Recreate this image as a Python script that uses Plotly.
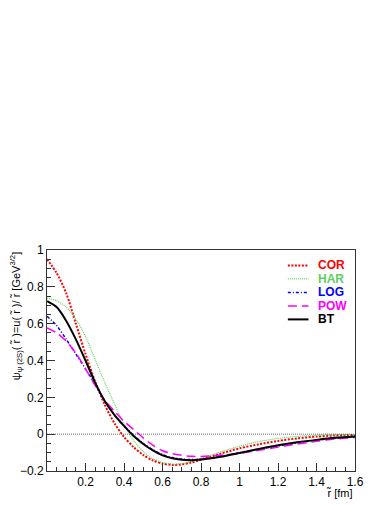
import plotly.graph_objects as go

# radius r~ in fm
r = [0.0, 0.05, 0.1, 0.15, 0.2, 0.25, 0.3, 0.35, 0.4, 0.45, 0.5, 0.55, 0.6,
     0.65, 0.7, 0.75, 0.8, 0.9, 1.0, 1.1, 1.2, 1.3, 1.4, 1.5, 1.6]

# wave functions psi(r~) [GeV^3/2]
cor = [0.95, 0.875, 0.765, 0.6, 0.435, 0.285, 0.16, 0.06, -0.015, -0.07, -0.113,
       -0.143, -0.16, -0.167, -0.164, -0.154, -0.139, -0.106, -0.077, -0.055,
       -0.037, -0.023, -0.013, -0.007, -0.004]
har = [0.738, 0.725, 0.69, 0.625, 0.53, 0.405, 0.28, 0.165, 0.055, -0.035,
       -0.095, -0.133, -0.153, -0.162, -0.16, -0.149, -0.132, -0.097, -0.065,
       -0.04, -0.023, -0.012, -0.006, -0.003, -0.002]
log = [0.64, 0.59, 0.515, 0.435, 0.355, 0.27, 0.18, 0.105, 0.045, -0.005,
       -0.05, -0.085, -0.111, -0.127, -0.135, -0.138, -0.136, -0.121, -0.101,
       -0.082, -0.064, -0.047, -0.033, -0.022, -0.015]
pow_ = [0.577, 0.55, 0.505, 0.44, 0.355, 0.265, 0.185, 0.125, 0.07, 0.025,
        -0.02, -0.06, -0.09, -0.106, -0.115, -0.12, -0.121, -0.114, -0.104,
        -0.088, -0.07, -0.054, -0.038, -0.026, -0.018]
bt = [0.722, 0.69, 0.615, 0.515, 0.40, 0.28, 0.18, 0.105, 0.045, -0.01,
      -0.053, -0.088, -0.115, -0.131, -0.139, -0.141, -0.138, -0.123, -0.102,
      -0.08, -0.06, -0.044, -0.031, -0.02, -0.013]

names = ['COR', 'HAR', 'LOG', 'POW', 'BT']
series = [cor, har, log, pow_, bt]

colors = ['#ff0000', '#5fcf5f', '#0000ff', '#ff00ff', '#000000']
dashes = ['2px,1.5px', '1px,1px', '3px,2px,1px,2px', '9px,5px', 'solid']
widths = [2, 1.2, 1.5, 1.5, 2]

font = 'Liberation Sans, Arial, Helvetica, sans-serif'

fig = go.Figure()

for name, ys, c, d, w in zip(names, series, colors, dashes, widths):
    fig.add_trace(go.Scatter(
        x=r, y=ys, mode='lines', name=name,
        line=dict(color=c, dash=d, width=w, shape='spline', smoothing=0.8),
        showlegend=False,
    ))

# dotted zero line
fig.add_hline(y=0, line=dict(color='#444', width=0.8, dash='1px,1px'))

# hand-made legend, ROOT style (coloured bold labels, tight rows)
for i, (name, c, d, w) in enumerate(zip(names, colors, dashes, widths)):
    ly = 0.93 - i * 0.061
    fig.add_shape(type='line', xref='paper', yref='paper',
                  x0=0.782, x1=0.849, y0=ly, y1=ly,
                  line=dict(color=c, dash=d, width=w))
    fig.add_annotation(xref='paper', yref='paper', x=0.872, y=ly,
                       xanchor='left', yanchor='middle', showarrow=False,
                       text='<b>' + name + '</b>',
                       font=dict(family=font, size=12, color=c))

# axis titles
fig.add_annotation(xref='paper', yref='paper', x=-0.1, y=1.0,
                   xanchor='center', yanchor='top', textangle=-90,
                   showarrow=False,
                   text='ψ<sub>ψ (2S)</sub>( r\u0303 )=u( r\u0303 )/ r\u0303 [GeV<sup>3/2</sup>]',
                   font=dict(family=font, size=11, color='black'))
fig.add_annotation(xref='paper', yref='paper', x=1.0, y=-0.1,
                   xanchor='right', yanchor='middle', showarrow=False,
                   text='r\u0303 [fm]',
                   font=dict(family=font, size=11, color='black'))

fig.update_xaxes(
    range=[0, 1.6],
    tickmode='array',
    tickvals=[0.2, 0.4, 0.6, 0.8, 1.0, 1.2, 1.4, 1.6],
    ticktext=['0.2', '0.4', '0.6', '0.8', '1', '1.2', '1.4', '1.6'],
    ticks='inside', ticklen=8, tickcolor='#333',
    minor=dict(tick0=0, dtick=0.05, ticks='inside', ticklen=4, tickcolor='#333'),
    showline=True, linecolor='#333', linewidth=1, mirror=True,
    showgrid=False, zeroline=False,
    tickfont=dict(family=font, size=12, color='black'),
)
fig.update_yaxes(
    range=[-0.2, 1.0],
    tick0=0, dtick=0.2,
    ticks='inside', ticklen=8, tickcolor='#333',
    minor=dict(tick0=0, dtick=0.05, ticks='inside', ticklen=4, tickcolor='#333'),
    showline=True, linecolor='#333', linewidth=1, mirror=True,
    showgrid=False, zeroline=False,
    tickfont=dict(family=font, size=12, color='black'),
)

# the page body adds an 8px offset, so the figure is 8px smaller
fig.update_layout(
    width=382, height=497,
    margin=dict(l=35, r=35, t=242, b=34),
    plot_bgcolor='white', paper_bgcolor='white',
    font=dict(family=font, size=12, color='black'),
)

fig.write_html("out.html")
